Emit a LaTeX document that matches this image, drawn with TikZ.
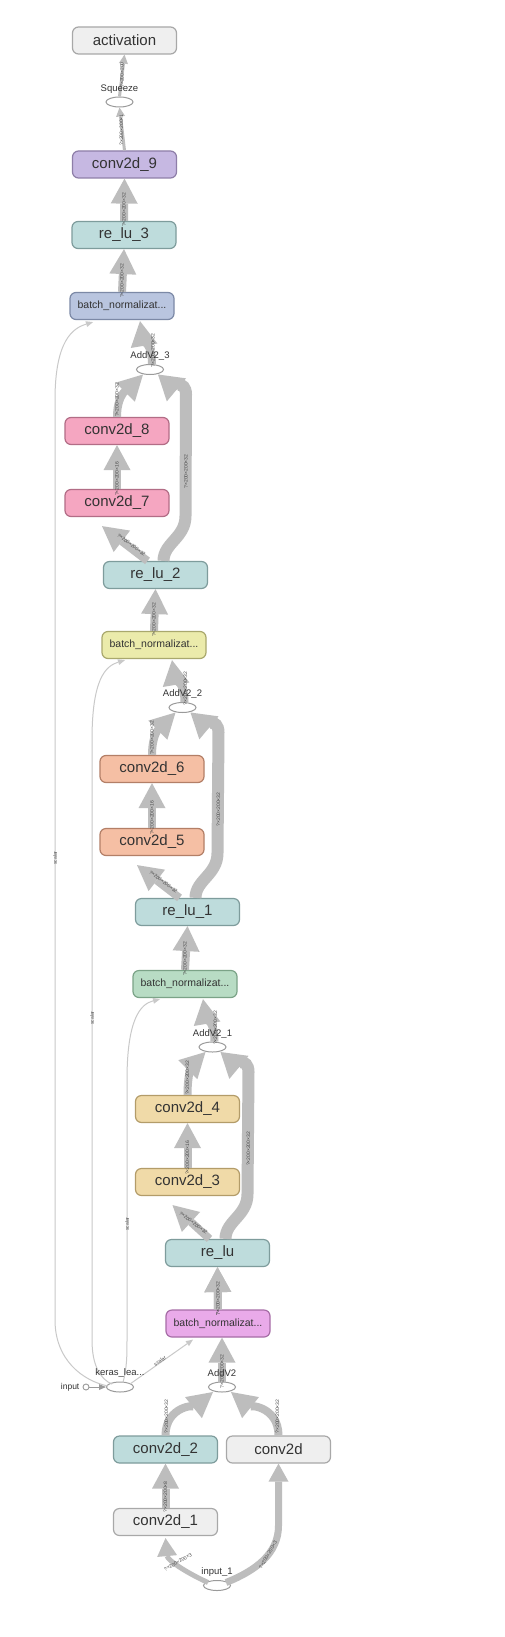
\documentclass[tikz,border=0pt]{standalone}
\usepackage{fontspec}
\setmainfont{Liberation Sans}
\usetikzlibrary{shapes.geometric,arrows.meta,calc}
\definecolor{edgeg}{HTML}{BDBDBD}
\definecolor{hairg}{HTML}{C9C9C9}
\definecolor{txt}{HTML}{333333}
\definecolor{labtxt}{HTML}{4A4A4A}
\definecolor{opline}{HTML}{9A9A9A}
\definecolor{grayF}{HTML}{EFEFEF}\definecolor{grayD}{HTML}{A8A8A8}
\definecolor{lavF}{HTML}{C6B8E2}\definecolor{lavD}{HTML}{8E7EA8}
\definecolor{tealF}{HTML}{BEDCDC}\definecolor{tealD}{HTML}{7E9C9C}
\definecolor{blueF}{HTML}{B9C5DF}\definecolor{blueD}{HTML}{7C89A6}
\definecolor{pinkF}{HTML}{F5A6C1}\definecolor{pinkD}{HTML}{B26D86}
\definecolor{yelF}{HTML}{EBEBAB}\definecolor{yelD}{HTML}{A9A86D}
\definecolor{salF}{HTML}{F5BFA4}\definecolor{salD}{HTML}{B37F67}
\definecolor{grnF}{HTML}{B8DCC4}\definecolor{grnD}{HTML}{7BA387}
\definecolor{tanF}{HTML}{F0DAA8}\definecolor{tanD}{HTML}{B39C69}
\definecolor{magF}{HTML}{E9AAE9}\definecolor{magD}{HTML}{A66DA6}
\begin{document}
\begin{tikzpicture}[x=1pt,y=-1pt,
  box/.style={draw, rounded corners=6pt, minimum width=104pt, minimum height=27pt, inner sep=0pt, line width=1.2pt, text=txt, font=\fontsize{15}{15}\selectfont},
  bnbox/.style={box, font=\fontsize{10.5}{10.5}\selectfont},
  cgray/.style={fill=grayF, draw=grayD},
  clav/.style={fill=lavF, draw=lavD},
  cteal/.style={fill=tealF, draw=tealD},
  cblue/.style={fill=blueF, draw=blueD},
  cpink/.style={fill=pinkF, draw=pinkD},
  cyel/.style={fill=yelF, draw=yelD},
  csal/.style={fill=salF, draw=salD},
  cgrn/.style={fill=grnF, draw=grnD},
  ctan/.style={fill=tanF, draw=tanD},
  cmag/.style={fill=magF, draw=magD},
  op/.style={ellipse, draw=opline, line width=1pt, fill=white, minimum width=27pt, minimum height=10pt, inner sep=0pt},
  oplab/.style={font=\fontsize{9.5}{9.5}\selectfont, text=txt, inner sep=0pt},
  fat/.style={draw=edgeg, line width=8pt, -{Triangle[width=27pt,length=25pt,line width=0pt]}},
  fatw/.style={draw=edgeg, line width=12pt, -{Triangle[width=30pt,length=24pt,line width=0pt]}},
  medium/.style={draw=edgeg, line width=5pt, -{Triangle[width=20pt,length=18pt,line width=0pt]}},
  slim/.style={draw=edgeg, line width=3pt, -{Triangle[width=9pt,length=9pt,line width=0pt]}},
  hair/.style={draw=hairg, line width=1pt, -{Triangle[width=6pt,length=7pt,line width=0pt]}},
  elab/.style={font=\fontsize{5}{5}\selectfont, text=labtxt, inner sep=0pt, rotate=90},
]
\fill[white] (0,0) rectangle (505,1637);
\useasboundingbox (0,0) rectangle (505,1637);

% nodes
\node[box,cgray] (act) at (124.5,40.5) {activation};
\node[op] (sq) at (119.5,102) {};
\node[box,clav] (c9) at (124.5,164.5) {conv2d\_9};
\node[box,cteal] (r3) at (124,235) {re\_lu\_3};
\node[bnbox,cblue] (b3) at (122,306) {batch\_normalizat...};
\node[op] (a3) at (150,369.5) {};
\node[box,cpink] (c8) at (117,431) {conv2d\_8};
\node[box,cpink] (c7) at (117,503) {conv2d\_7};
\node[box,cteal] (r2) at (155.5,575) {re\_lu\_2};
\node[bnbox,cyel] (b2) at (154,645) {batch\_normalizat...};
\node[op] (a2) at (182.5,707.5) {};
\node[box,csal] (c6) at (152,769) {conv2d\_6};
\node[box,csal] (c5) at (152,842) {conv2d\_5};
\node[box,cteal] (r1) at (187.5,912) {re\_lu\_1};
\node[bnbox,cgrn] (b1) at (185,984) {batch\_normalizat...};
\node[op] (a1) at (212.5,1047) {};
\node[box,ctan] (c4) at (187.5,1109) {conv2d\_4};
\node[box,ctan] (c3) at (187.5,1182) {conv2d\_3};
\node[box,cteal] (r0) at (217.5,1253) {re\_lu};
\node[bnbox,cmag] (b0) at (218,1323.5) {batch\_normalizat...};
\node[op] (a0) at (222,1387) {};
\node[op] (ker) at (120,1387) {};
\node[circle, draw=opline, line width=0.9pt, fill=white, minimum size=6pt, inner sep=0pt] (inp) at (86,1387) {};
\node[box,cteal] (c2) at (165.5,1449.5) {conv2d\_2};
\node[box,cgray] (cc) at (278.5,1449.5) {conv2d};
\node[box,cgray] (c1) at (165.5,1522) {conv2d\_1};
\node[op] (in1) at (217,1585.5) {};

% top edges
\draw[slim] (c9.north) -- (sq.south);
\draw[slim] (sq.north) -- (act.south);
\draw[fat] (r3.north) -- (c9.south);
\draw[fat] (b3.north) -- (r3.south);

% residual blocks
\foreach \bn/\ad/\cb/\ca/\rl/\bp in {b3/a3/c8/c7/r2/b2, b2/a2/c6/c5/r1/b1, b1/a1/c4/c3/r0/b0}{
  \draw[fat] ($(\ad.north)+(2,0)$) .. controls +(0,-20) and +(3,18) .. ($(\bn.south)+(18,1)$);
  \draw[fat] (\cb.north) .. controls +(0,-25) and +(-12,12) .. ($(\ad)+(-7,5)$);
  \draw[fat] (\ca.north) -- (\cb.south);
  \draw[fat] ($(\rl.north)+(-8,0)$) -- ($(\ca.south)+(-15,9)$);
  \draw[fatw] ($(\rl.north)+(8,0)$) .. controls +(0,-18) and +(0,22) .. ($(\rl.north)+(30,-45)$) -- ($(\ad)+(36,25)$) .. controls +(0,-15) and +(12,10) .. ($(\ad)+(8,5)$);
  \draw[fat] (\bp.north) -- (\rl.south);
  \node[elab] at ($(\ad)+(3,-19)$) {?×200×200×32};
  \node[elab] at ($(\cb.north)+(0,-17)$) {?×200×200×32};
  \node[elab] at ($(\ca.north)+(0,-10)$) {?×200×200×16};
  \node[elab, rotate=-127] at ($(\rl.north)+(-24,-16)$) {?×200×200×32};
  \node[elab] at ($(\ad)+(36,102)$) {?×200×200×32};
  \node[elab] at ($(\bp.north)+(0,-11)$) {?×200×200×32};
}

% bottom block
\draw[fat] (a0.north) -- (a0.north |- b0.south);
\draw[fat] (b0.north) -- (r0.south);
\draw[fat] (c2.north) .. controls +(0,-30) and +(-15,12) .. ($(a0)+(-9,5)$);
\draw[fat] (cc.north) .. controls +(0,-30) and +(15,12) .. ($(a0)+(9,5)$);
\draw[fat] (c1.north) -- (c2.south);
\draw[medium] ($(in1)+(-9,-3)$) .. controls +(-22,-10) and +(2,22) .. ($(c1.south)+(0,2)$);
\draw[medium, line width=7pt] ($(in1)+(9,-3)$) .. controls +(30,-12) and +(0,28) .. ($(cc.south)+(0,62)$) -- (cc.south);

% thin edges from keras_learning_phase
\draw[hair, draw=opline] (inp) -- (ker);
\draw[hair] ($(ker)+(10,-3)$) -- ($(b0.south)+(-25,2)$);
\draw[hair] ($(ker.north)+(3,1)$) .. controls +(4,-15) and +(0,15) .. (127,1340) -- (127,1080) .. controls +(0,-60) and +(-20,5) .. ($(b1.south)+(-25,1)$);
\draw[hair] ($(ker.north west)+(2,1)$) .. controls +(-12,-5) and +(0,25) .. (92,1340) -- (92,740) .. controls +(0,-60) and +(-20,6) .. ($(b2.south)+(-29,1)$);
\draw[hair] ($(ker.west)+(2,-1)$) .. controls +(-25,-5) and +(0,40) .. (55,1320) -- (55,400) .. controls +(0,-60) and +(-20,6) .. ($(b3.south)+(-29,2)$);

% labels
\node[oplab] at ($(sq)+(0,-13)$) {Squeeze};
\node[oplab] at ($(a3)+(0,-13.5)$) {AddV2\_3};
\node[oplab] at ($(a2)+(0,-13.5)$) {AddV2\_2};
\node[oplab] at ($(a1)+(0,-13.5)$) {AddV2\_1};
\node[oplab] at ($(a0)+(0,-14)$) {AddV2};
\node[oplab] at ($(ker)+(0,-14)$) {keras\_lea...};
\node[oplab] at ($(in1)+(0,-13.5)$) {input\_1};
\node[oplab, anchor=east, font=\fontsize{8.5}{8.5}\selectfont] at ($(inp.west)+(-3,0)$) {input};

\node[elab] at (122,75) {?×200×200};
\node[elab] at (121.5,130) {?×200×200×1};
\node[elab] at ($(r3.north)+(0,-11)$) {?×200×200×32};
\node[elab] at ($(b3.north)+(0,-11)$) {?×200×200×32};
\node[elab] at ($(a0.north)+(0,-10)$) {?×200×200×32};
\node[elab] at ($(b0.north)+(0,-11)$) {?×200×200×32};
\node[elab] at ($(c2.north)+(1,-19)$) {?×200×200×32};
\node[elab] at ($(cc.north)+(-1,-19)$) {?×200×200×32};
\node[elab] at ($(c1.north)+(0,-11)$) {?×200×200×8};
\node[elab, rotate=-60] at (178,1562) {?×200×200×3};
\node[elab, rotate=-30] at (268,1555) {?×200×200×3};
\node[elab] at (55,858) {scalar};
\node[elab] at (92,1018) {scalar};
\node[elab] at (127,1224) {scalar};
\node[elab, rotate=-56] at (160,1361) {scalar};
\end{tikzpicture}
\end{document}
